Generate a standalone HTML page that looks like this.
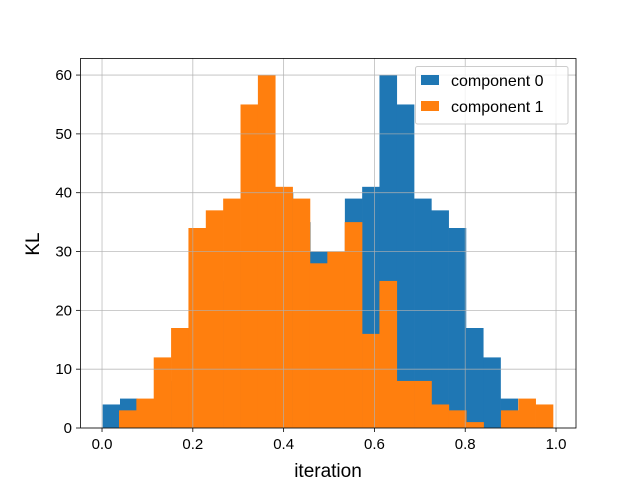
<!DOCTYPE html>
<html><head><meta charset="utf-8"><style>body{margin:0;background:#fff}svg{display:block;font-family:"Liberation Sans","DejaVu Sans",sans-serif}</style></head>
<body>
<svg id="chart" width="640" height="480" viewBox="0 0 640 480" xmlns="http://www.w3.org/2000/svg">
<rect width="640" height="480" fill="#fff"/>
<g id="bars"></g>
<g id="grid"></g>
<rect x="80.5" y="58.5" width="495.5" height="369.5" fill="none" stroke="#000" stroke-width="0.8"/>
<g id="ticks"></g>
<text x="328" y="477" text-anchor="middle" font-size="19">iteration</text>
<text x="0" y="0" transform="translate(39,244) rotate(-90)" text-anchor="middle" font-size="19">KL</text>
<g>
<rect x="415.5" y="66.5" width="152.5" height="57.5" fill="#fff" fill-opacity="0.8" stroke="#ccc" rx="2"/>
<rect x="421" y="75" width="18" height="10" fill="#1f77b4"/>
<text x="451" y="86" font-size="16">component 0</text>
<rect x="421" y="101" width="18" height="10" fill="#ff7f0e"/>
<text x="451" y="112" font-size="16">component 1</text>
</g>
</svg>
<script>
const comp0Counts = [4,5,2,8,12,20,25,30,33,38,40,35,30,28,39,41,60,55,39,37,34,17,12,5];
const comp0Start = 0.0015;
const comp0Width = 0.0381;
const comp1Counts = [3,5,12,17,34,37,39,55,60,41,39,28,30,35,16,25,8,8,4,3,1,0,3,5,4];
const comp1Start = 0.0374;
const comp1Width = 0.03824;
const xTicks = [0.0,0.2,0.4,0.6,0.8,1.0];
const xTickLabels = ["0.0","0.2","0.4","0.6","0.8","1.0"];
const yTicks = [0,10,20,30,40,50,60];
const yTickLabels = ["0","10","20","30","40","50","60"];

const NS = "http://www.w3.org/2000/svg";
const X0=80, X1=576, Y0=428, Y1=58;
const xMin=-0.0485, xMax=1.044, yMin=0, yMax=62.9;
const xs = v => X0 + (v-xMin)/(xMax-xMin)*(X1-X0);
const ys = v => Y0 - (v-yMin)/(yMax-yMin)*(Y0-Y1);
function mk(tag, attrs){const e=document.createElementNS(NS,tag);for(const k in attrs)e.setAttribute(k,attrs[k]);return e;}
const bars=document.getElementById('bars');
function drawSeries(counts,start,width,color,name){
  counts.forEach((c,i)=>{
    const xa=xs(start+i*width), xb=xs(start+(i+1)*width);
    const r=mk('rect',{x:xa,y:ys(c),width:xb-xa+0.3,height:ys(0)-ys(c),fill:color});
    
    
    bars.appendChild(r);
  });
}
drawSeries(comp0Counts,comp0Start,comp0Width,'#1f77b4','component-0');
drawSeries(comp1Counts,comp1Start,comp1Width,'#ff7f0e','component-1');
const grid=document.getElementById('grid'), ticks=document.getElementById('ticks');
xTicks.forEach((t,i)=>{
  const x=xs(t);
  const g=mk('line',{x1:x,x2:x,y1:Y1,y2:Y0,stroke:'#b0b0b0','stroke-width':0.8,'stroke-opacity':0.85});
  
  
  grid.appendChild(g);
  ticks.appendChild(mk('line',{x1:x,x2:x,y1:Y0,y2:Y0+4,stroke:'#000','stroke-width':0.8}));
  const tx=mk('text',{x:x,y:Y0+21,'text-anchor':'middle','font-size':15});
  tx.textContent=xTickLabels[i];
  
  
  ticks.appendChild(tx);
});
yTicks.forEach((t,i)=>{
  const y=ys(t);
  const g=mk('line',{x1:X0,x2:X1,y1:y,y2:y,stroke:'#b0b0b0','stroke-width':0.8,'stroke-opacity':0.85});
  
  
  grid.appendChild(g);
  ticks.appendChild(mk('line',{x1:X0-4,x2:X0,y1:y,y2:y,stroke:'#000','stroke-width':0.8}));
  const tx=mk('text',{x:X0-8,y:y+5,'text-anchor':'end','font-size':15});
  tx.textContent=yTickLabels[i];
  
  
  ticks.appendChild(tx);
});
</script>
</body></html>
